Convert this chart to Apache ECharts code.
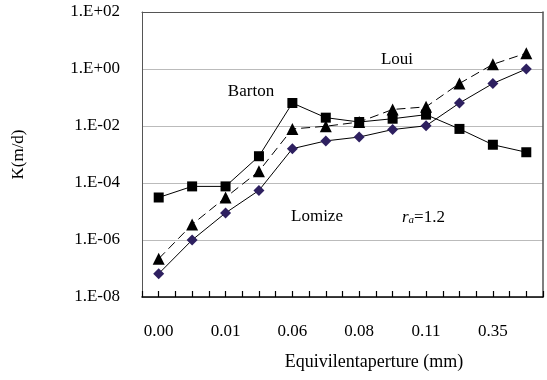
<!DOCTYPE html>
<html>
<head>
<meta charset="utf-8">
<script src="https://cdn.jsdelivr.net/npm/echarts@6/dist/echarts.min.js"></script>
<style>html,body{margin:0;padding:0;background:#fff}#c{width:547px;height:380px}</style>
</head>
<body>
<div id="c"></div>
<script>
const categories = ['0.00','0.005','0.01','0.03','0.06','0.07','0.08','0.10','0.11','0.20','0.35','0.50'];
const xTickLabels = ['0.00','','0.01','','0.06','','0.08','','0.11','','0.35',''];
const yTicks = [1e-8, 1e-6, 1e-4, 1e-2, 1e0, 1e2];
const barton = [3.1e-5, 7.6e-5, 7.6e-5, 8.7e-4, 0.064, 0.0196, 0.0138, 0.018, 0.025, 0.0079, 0.0022, 0.0012];
const loui   = [2.2e-7, 3.5e-6, 3.1e-5, 2.6e-4, 0.0079, 0.0098, 0.0138, 0.038, 0.047, 0.31, 1.46, 3.6];
const lomize = [6.6e-8, 1.0e-6, 8.9e-6, 5.5e-5, 0.0016, 0.0030, 0.0041, 0.0075, 0.0102, 0.064, 0.31, 1.0];

const toPairs = arr => arr.map((v, i) => [i, v]);
const serif = 'Liberation Serif';

function expLabel(v) {
  const e = Math.round(Math.log10(v));
  const s = e < 0 ? '-' : '+';
  const a = Math.abs(e);
  return '1.E' + s + (a < 10 ? '0' + a : a);
}
function xLabel(v) {
  const i = Math.round(v);
  return (Math.abs(v - i) < 1e-6 && xTickLabels[i]) ? xTickLabels[i] : '';
}

const chart = echarts.init(document.getElementById('c'));
chart.setOption({
  animation: false,
  backgroundColor: '#fff',
  grid: { left: 142, right: 4, top: 12, bottom: 83 },
  xAxis: [{
    type: 'value', min: -0.5, max: 11.5, interval: 0.5,
    axisLine: { show: true, onZero: false, lineStyle: { color: '#000', width: 1.5 } },
    axisTick: { show: true, inside: true, length: 6, lineStyle: { color: '#000', width: 1.2 } },
    minorTick: { show: false },
    splitLine: { show: false },
    axisLabel: { margin: 26, fontFamily: serif, fontSize: 17, color: '#000', showMinLabel: true, showMaxLabel: true, formatter: xLabel }
  }, {
    type: 'value', position: 'top', min: -0.5, max: 11.5,
    axisLine: { show: true, onZero: false, lineStyle: { color: '#555', width: 1 } },
    axisTick: { show: false }, axisLabel: { show: false }, splitLine: { show: false }
  }],
  yAxis: [{
    type: 'log', logBase: 10, min: 1e-8, max: 1e2,
    name: 'K(m/d)', nameLocation: 'middle', nameGap: 115,
    nameTextStyle: { fontFamily: serif, fontSize: 17, color: '#000' },
    axisLine: { show: true, onZero: false, lineStyle: { color: '#555' } },
    axisTick: { show: false, customValues: yTicks },
    splitLine: { show: true, lineStyle: { color: '#bbb', width: 1 } },
    axisLabel: { margin: 22, fontFamily: serif, fontSize: 17, color: '#000', padding: [8, 0, 0, 0], customValues: yTicks, formatter: expLabel }
  }, {
    type: 'log', position: 'right', min: 1e-8, max: 1e2,
    axisLine: { show: true, onZero: false, lineStyle: { color: '#555', width: 1.5 } },
    axisTick: { show: false }, axisLabel: { show: false }, splitLine: { show: false }
  }],
  graphic: [
    { type: 'text', x: 251, y: 92, style: { text: 'Barton', font: '17px "Liberation Serif"', fill: '#000', align: 'center', verticalAlign: 'middle' } },
    { type: 'text', x: 397, y: 60, style: { text: 'Loui', font: '17px "Liberation Serif"', fill: '#000', align: 'center', verticalAlign: 'middle' } },
    { type: 'text', x: 317, y: 217, style: { text: 'Lomize', font: '17px "Liberation Serif"', fill: '#000', align: 'center', verticalAlign: 'middle' } },
    { type: 'text', left: 402, top: 209, style: { text: '{r|r}{a|a}{n|=1.2}', rich: {
        r: { fontFamily: serif, fontStyle: 'italic', fontSize: 17, fill: '#000' },
        a: { fontFamily: serif, fontStyle: 'italic', fontSize: 11, fill: '#000', verticalAlign: 'bottom', padding: [6, 0, 0, 0] },
        n: { fontFamily: serif, fontSize: 17, fill: '#000' } } } },
    { type: 'text', x: 374, y: 362, style: { text: 'Equivilentaperture (mm)', font: '18px "Liberation Serif"', fill: '#000', align: 'center', verticalAlign: 'middle' } }
  ],
  series: [
    { name: 'Lomize', type: 'line', data: toPairs(lomize), symbol: 'diamond', symbolSize: 11,
      itemStyle: { color: '#2e2060' }, lineStyle: { color: '#000', width: 1 } },
    { name: 'Loui', type: 'line', data: toPairs(loui), symbol: 'triangle', symbolSize: 12,
      itemStyle: { color: '#000' }, lineStyle: { color: '#000', width: 1, type: [9, 5] } },
    { name: 'Barton', type: 'line', data: toPairs(barton), symbol: 'rect', symbolSize: 10,
      itemStyle: { color: '#000' }, lineStyle: { color: '#000', width: 1 } }
  ]
});
</script>
</body>
</html>
